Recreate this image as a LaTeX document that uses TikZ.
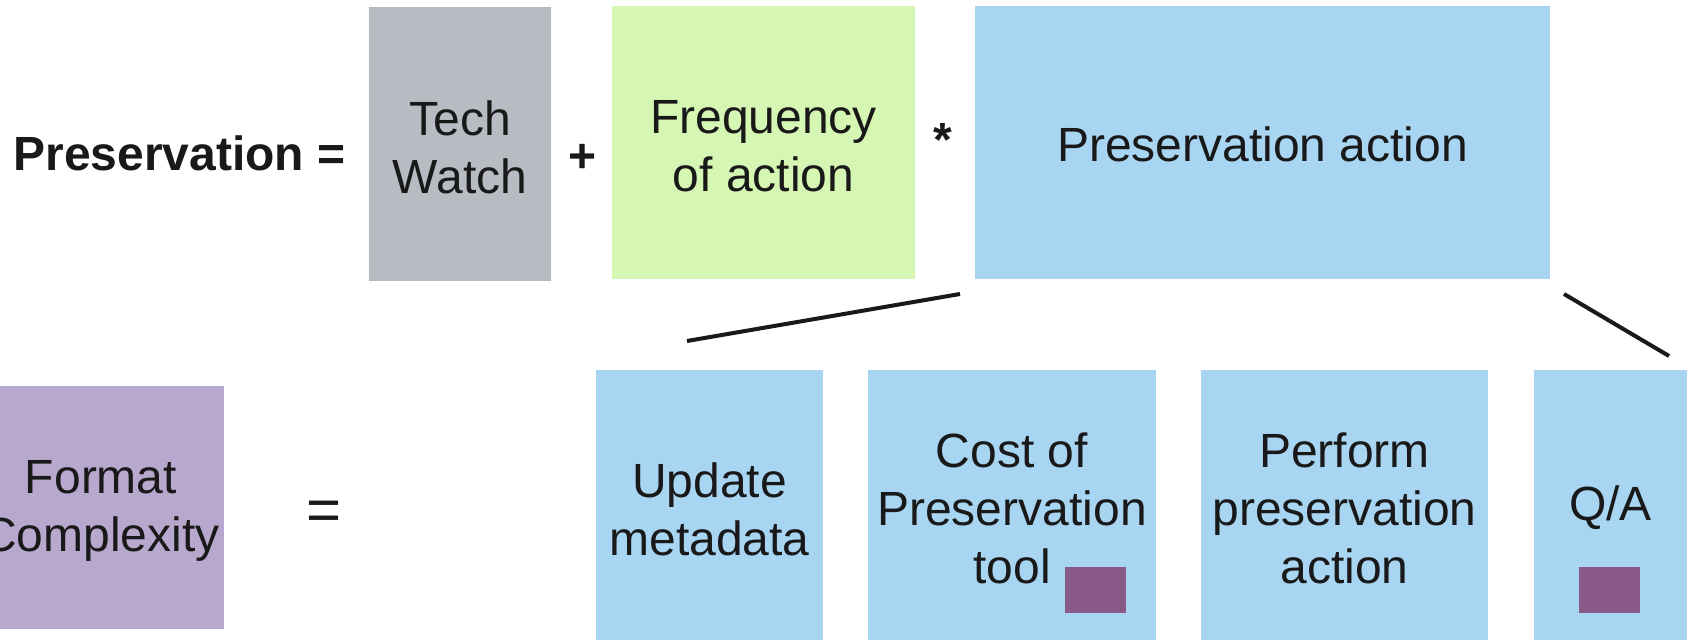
\documentclass[tikz,border=0pt]{standalone}
\usepackage{fontspec}
\setmainfont{Liberation Sans}
\definecolor{techgray}{RGB}{183,188,194}
\definecolor{freqgreen}{RGB}{214,247,180}
\definecolor{actblue}{RGB}{167,213,242}
\definecolor{lavender}{RGB}{184,168,206}
\definecolor{plum}{RGB}{137,89,135}
\tikzset{
  box/.style={inner sep=0pt, align=center, font=\fontsize{24}{29}\selectfont, text=black!90},
  op/.style={inner sep=0pt, font=\bfseries\fontsize{24}{29}\selectfont, text=black!90},
  mark box/.style={fill=plum, draw=none},
  link/.style={line width=2pt, black!90}
}
\begin{document}
\begin{tikzpicture}[x=0.5pt,y=-0.5pt]
\useasboundingbox (0,0) rectangle (1689,640);
% top row
\node[op, anchor=base west] (lhs) at (13,171) {Preservation =};
\node[box, fill=techgray, minimum width=91pt, minimum height=137pt] (tech) at (460,144) {};
\node[box] (techtxt) at (460,147) {Tech\\Watch};
\node[op] (plus) at (583,158) {+};
\node[box, fill=freqgreen, minimum width=151.5pt, minimum height=136.5pt] (freq) at (763.5,142.5) {};
\node[box] (freqtxt) at (763.5,146) {Frequency\\of action};
\node[op] (times) at (943,140) {*};
\node[box, fill=actblue, minimum width=287.5pt, minimum height=136.5pt] (pa) at (1262.5,142.5) {};
\node[box] (patxt) at (1262.5,144.5) {Preservation action};
% bottom row
\node[box, fill=lavender, minimum width=123pt, minimum height=121.5pt] (fc) at (101,507.5) {};
\node[box] (fctxt) at (101,511) {Format\\Complexity};
\node[inner sep=0pt, font=\fontsize{30}{36}\selectfont, text=black!90] (eq) at (324,516) {=};
\node[box, fill=actblue, minimum width=113.5pt, minimum height=135pt] (um) at (709.5,505) {};
\node[box] (umtxt) at (709.5,509) {Update\\metadata};
\node[box, fill=actblue, minimum width=144pt, minimum height=135pt] (cost) at (1012,505) {};
\node[box] (costtxt) at (1012,508.5) {Cost of\\Preservation\\tool};
\node[box, fill=actblue, minimum width=143.5pt, minimum height=135pt] (perf) at (1344.5,505) {};
\node[box] (perftxt) at (1344.5,508.5) {Perform\\preservation\\action};
\node[box, fill=actblue, minimum width=76.5pt, minimum height=135pt] (qa) at (1610.5,505) {};
\node[box] (qatxt) at (1610.5,508) {Q/A};
\fill[mark box] (1065,567) rectangle (1126,613);
\fill[mark box] (1579,567) rectangle (1640,613);
% expansion lines
\coordinate (l1a) at (960,294);
\coordinate (l1b) at (687,341);
\coordinate (l2a) at (1564,294);
\coordinate (l2b) at (1669,356);
\draw[link] (l1a) -- (l1b);
\draw[link] (l2a) -- (l2b);
\end{tikzpicture}
\end{document}
